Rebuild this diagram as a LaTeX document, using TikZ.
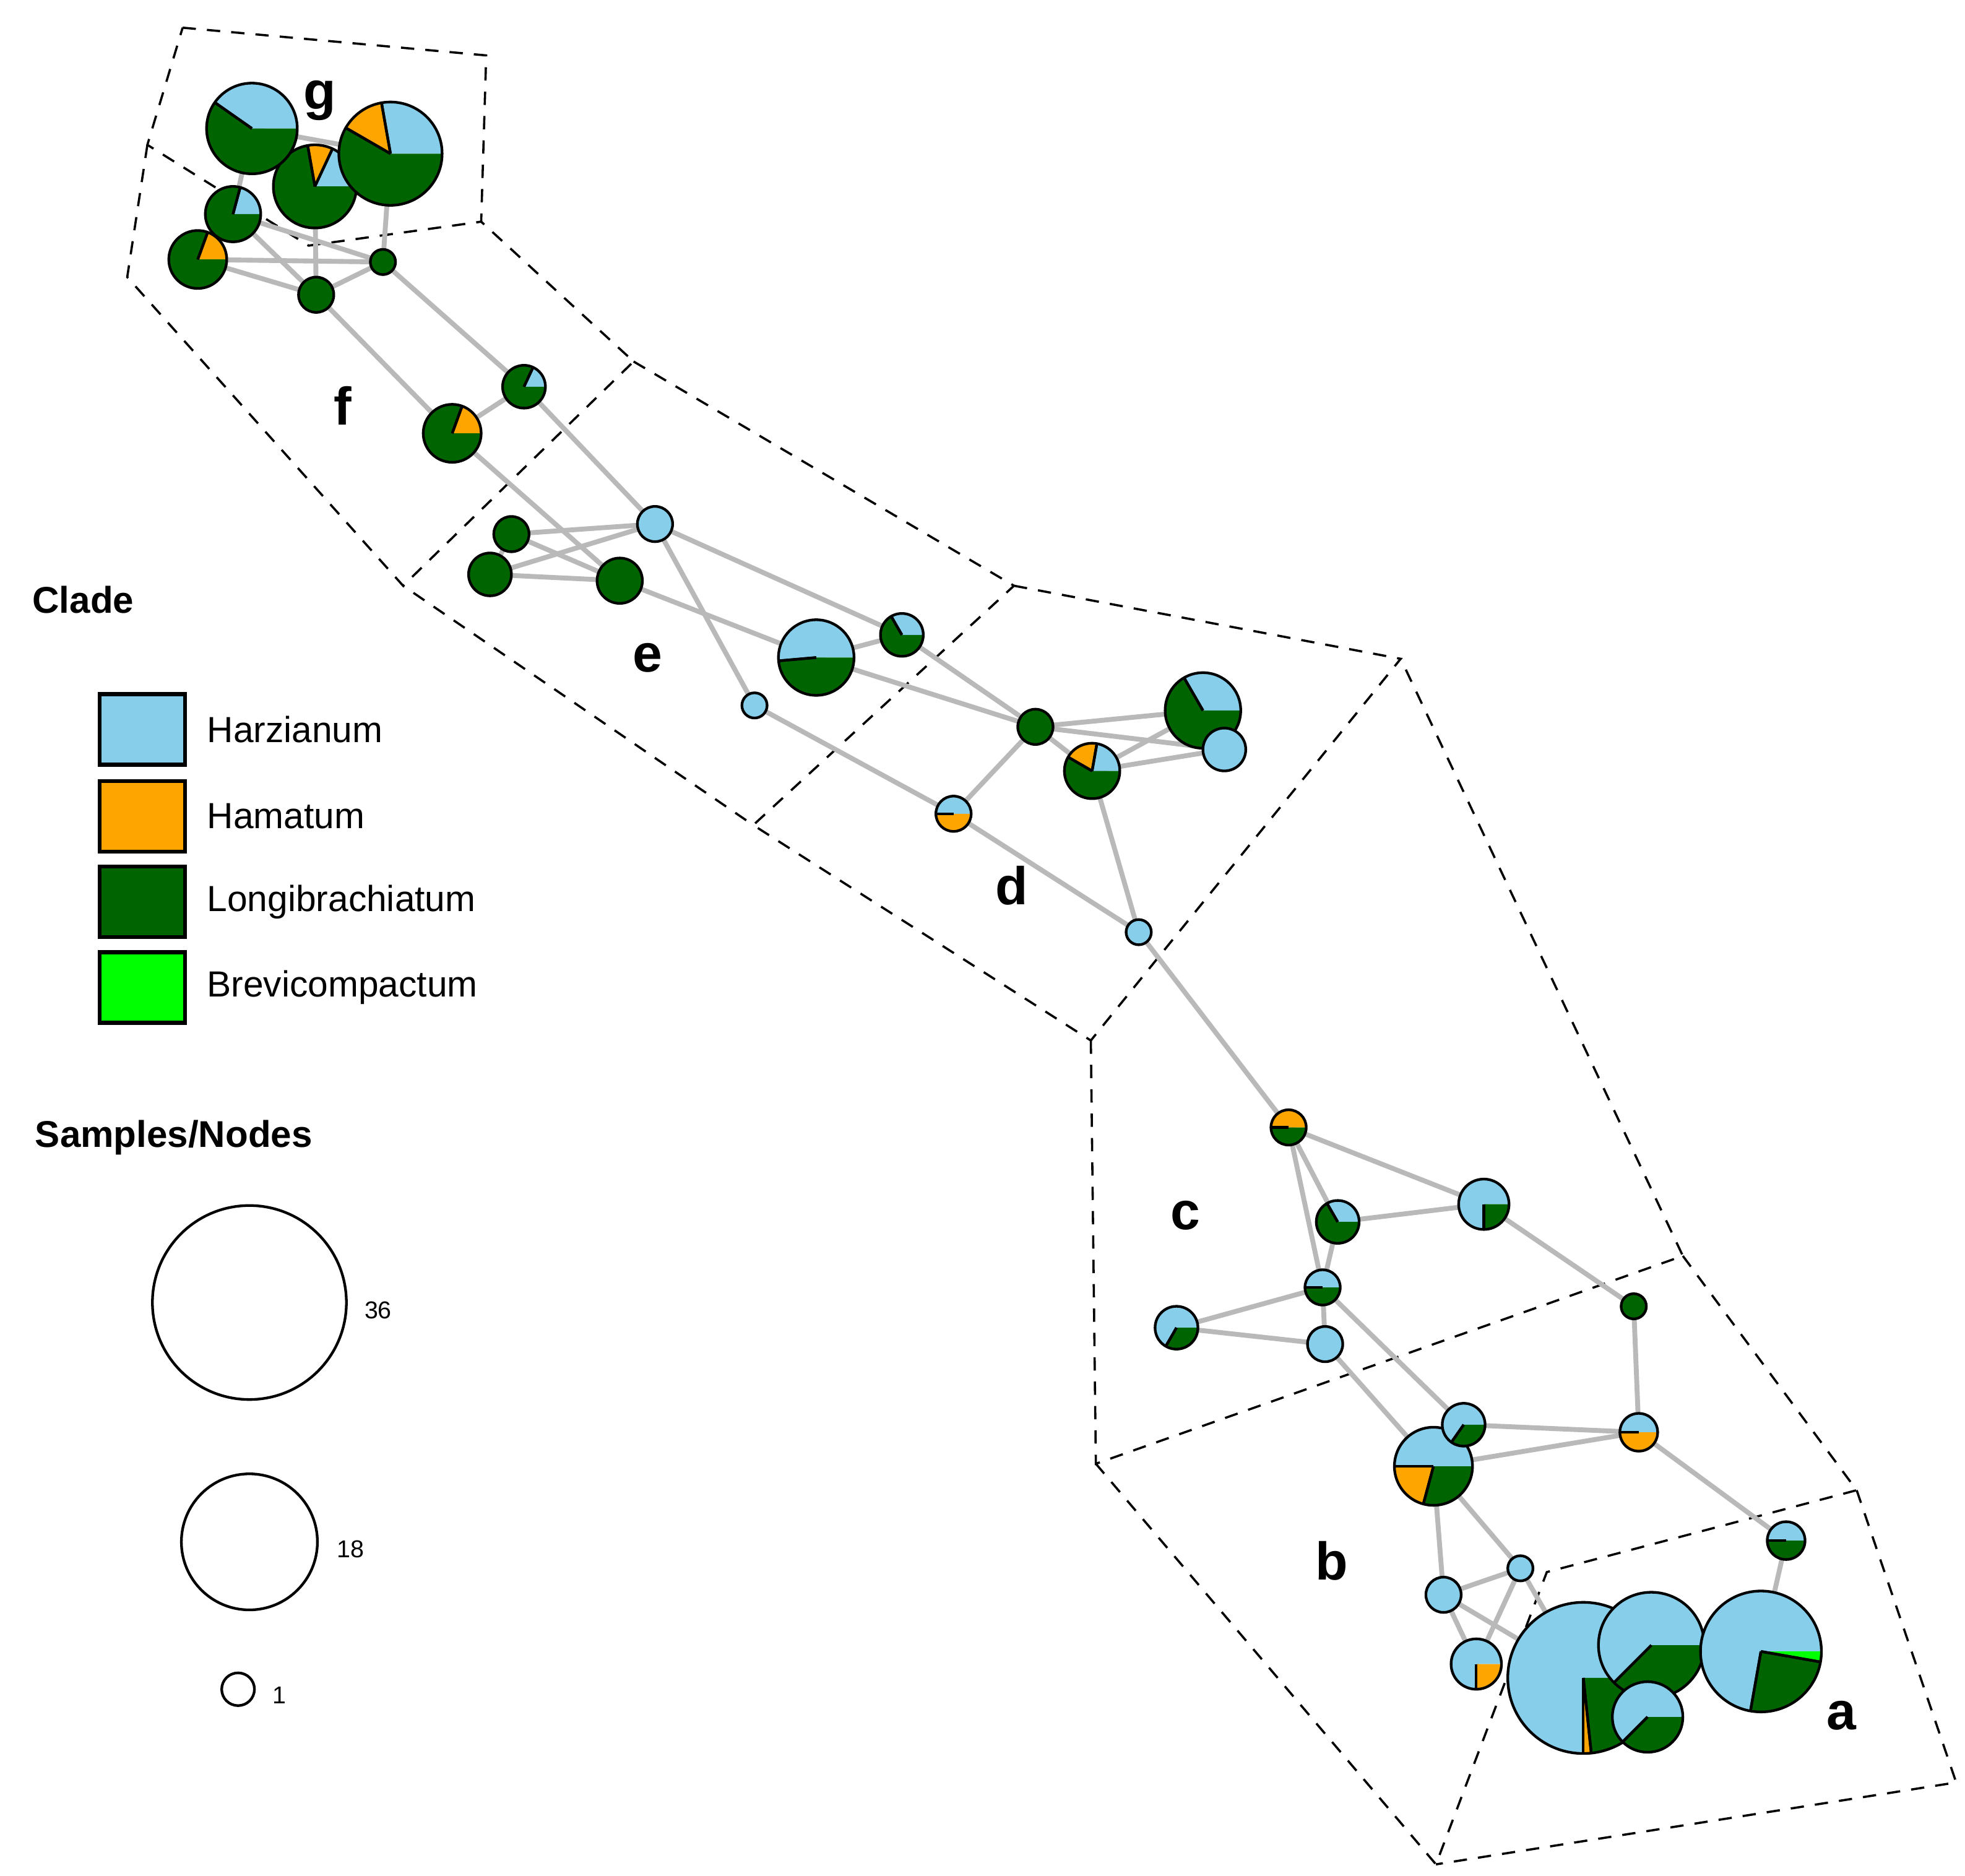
\documentclass[tikz,border=0pt]{standalone}
\usepackage{fontspec}
\setmainfont{Liberation Sans}
\begin{document}
\definecolor{hz}{HTML}{87CEEB}
\definecolor{hm}{HTML}{FFA500}
\definecolor{lg}{HTML}{006400}
\definecolor{bv}{HTML}{00FF00}
\newcommand\mypie[4]{%
  \coordinate (#1) at (#2);
  \foreach \a/\b/\c in {#4}{%
    \fill[\c] (#1) -- ++(-\a:#3) arc[start angle=-\a, end angle=-\b, radius=#3] -- cycle;}
  \foreach \a/\b/\c in {#4}{%
    \ifdim\a pt=0pt\else\draw[pieline] (#1) -- ++(-\a:#3);\fi
    \ifdim\b pt=360pt\else\draw[pieline] (#1) -- ++(-\b:#3);\fi}
  \draw[pieline] (#1) circle[radius=#3];}
\begin{tikzpicture}[x=0.01cm,y=-0.01cm,
  pieline/.style={black,line width=0.6pt},
  edge/.style={gray!55,line width=1.1pt},
  region/.style={black,line width=0.5pt,dash pattern=on 3pt off 2.5pt},
  clab/.style={font=\fontsize{12}{14}\selectfont\bfseries},
  leg/.style={font=\fontsize{8.2}{10}\selectfont,anchor=west},
  legbox/.style={draw=black,line width=0.9pt}]
\useasboundingbox (0,0) rectangle (1560,1489);
% region polygons
\coordinate (p1) at (145,22); \coordinate (p2) at (386,44); \coordinate (p3) at (382,176);
\coordinate (p4) at (117,115); \coordinate (p5) at (101,220); \coordinate (p6) at (245,195);
\coordinate (p7) at (503,287); \coordinate (p8) at (320,465); \coordinate (p9) at (805,465);
\coordinate (p10) at (598,655); \coordinate (p11) at (1112,523); \coordinate (p12) at (866,826);
\coordinate (p13) at (870,1162); \coordinate (p14) at (1336,997); \coordinate (p15) at (1474,1183);
\coordinate (p16) at (1140,1480); \coordinate (p17) at (1228,1248); \coordinate (p18) at (1553,1415);
\draw[region] (p1)--(p2)--(p3)--(p6)--(p4)--(p1);
\draw[region] (p4)--(p5)--(p8)--(p7)--(p3);
\draw[region] (p7)--(p9)--(p10)--(p8);
\draw[region] (p9)--(p11)--(p12)--(p10);
\draw[region] (p12)--(p13)--(p14)--(p11);
\draw[region] (p14)--(p15)--(p17)--(p16)--(p13);
\draw[region] (p15)--(p18)--(p16);
% coordinates of nodes
\foreach \n/\p in {G1/{200,102},G2/{310,122},G3/{250,148},G4/{185,170},G5/{157,206},G6/{304,208},G7/{251,234},
 F1/{416,307},F2/{359,344},E1/{520,416},E2/{406,424},E3/{389,456},E4/{492,461},E5/{648,522},E6/{599,560},E7/{716,504},
 D1/{822,577},D2/{955,564},D3/{972,595},D4/{867,612},D5/{757,646},D6/{904,740},
 C1/{1023,895},C2/{1178,956},C3/{1062,970},C4/{1050,1022},C5/{934,1054},C6/{1052,1067},C7/{1297,1037},
 B1/{1162,1131},B2/{1138,1164},B3/{1301,1137},B4/{1207,1245},B5/{1146,1266},B6/{1172,1321},
 A0/{1418,1223},A1/{1257,1332},A2/{1311,1306},A3/{1308,1363},A4/{1398,1311}}
 {\coordinate (\n) at (\p);}
% edges
\foreach \u/\v in {G1/G2,G1/G4,G2/G6,G3/G7,G5/G6,G5/G7,G4/G6,G4/G7,G7/G6,G6/F1,F1/E1,G7/F2,F2/F1,F2/E4,
 E1/E2,E1/E3,E2/E4,E3/E4,E2/E3,E1/E7,E4/E5,E1/E6,E5/E7,E5/D1,E7/D1,E6/D5,D5/D1,D5/D6,
 D1/D2,D1/D3,D1/D4,D4/D2,D4/D3,D4/D6,D6/C1,C1/C2,C1/C3,C1/C4,C3/C2,C3/C4,C4/C5,C5/C6,C4/C6,
 C4/B1,C6/B2,C2/C7,C7/B3,B1/B3,B2/B3,B2/B5,B2/B4,B3/A0,A0/A4,B5/B4,B5/B6,B4/B6,B4/A1,B5/A1,A2/A4}
 {\draw[edge] (\u) -- (\v);}
% pies
\mypie{G3}{250,148}{33}{0/65/hz,65/100/hm,100/360/lg}
\mypie{G1}{200,102}{36}{0/145/hz,145/360/lg}
\mypie{G2}{310,122}{41}{0/100/hz,100/150/hm,150/360/lg}
\mypie{G4}{185,170}{22}{0/75/hz,75/360/lg}
\mypie{G5}{157,206}{23}{0/70/hm,70/360/lg}
\mypie{G6}{304,208}{10}{0/360/lg}
\mypie{G7}{251,234}{14}{0/360/lg}
\mypie{F1}{416,307}{17}{0/65/hz,65/360/lg}
\mypie{F2}{359,344}{23}{0/70/hm,70/360/lg}
\mypie{E1}{520,416}{14}{0/360/hz}
\mypie{E2}{406,424}{14}{0/360/lg}
\mypie{E3}{389,456}{17}{0/360/lg}
\mypie{E4}{492,461}{18}{0/360/lg}
\mypie{E5}{648,522}{30}{0/185/hz,185/360/lg}
\mypie{E6}{599,560}{10}{0/360/hz}
\mypie{E7}{716,504}{17}{0/120/hz,120/360/lg}
\mypie{D1}{822,577}{14}{0/360/lg}
\mypie{D2}{955,564}{30}{0/120/hz,120/360/lg}
\mypie{D3}{972,595}{17}{0/360/hz}
\mypie{D4}{867,612}{22}{0/80/hz,80/150/hm,150/360/lg}
\mypie{D5}{757,646}{14}{0/180/hz,180/360/hm}
\mypie{D6}{904,740}{10}{0/360/hz}
\mypie{C1}{1023,895}{14}{0/180/hm,180/360/lg}
\mypie{C2}{1178,956}{20}{0/270/hz,270/360/lg}
\mypie{C3}{1062,970}{17}{0/120/hz,120/360/lg}
\mypie{C4}{1050,1022}{14}{0/180/hz,180/360/lg}
\mypie{C5}{934,1054}{17}{0/240/hz,240/360/lg}
\mypie{C6}{1052,1067}{14}{0/360/hz}
\mypie{C7}{1297,1037}{10}{0/360/lg}
\mypie{B2}{1138,1164}{31}{0/180/hz,180/255/hm,255/360/lg}
\mypie{B1}{1162,1131}{17}{0/235/hz,235/360/lg}
\mypie{B3}{1301,1137}{15}{0/180/hz,180/360/hm}
\mypie{B4}{1207,1245}{10}{0/360/hz}
\mypie{B5}{1146,1266}{14}{0/360/hz}
\mypie{B6}{1172,1321}{20}{0/270/hz,270/360/hm}
\mypie{A0}{1418,1223}{15}{0/180/hz,180/360/lg}
\mypie{A1}{1257,1332}{60}{0/270/hz,270/276/hm,276/360/lg}
\mypie{A2}{1311,1306}{42}{0/225/hz,225/360/lg}
\mypie{A3}{1308,1363}{28}{0/225/hz,225/360/lg}
\mypie{A4}{1398,1311}{48}{0/260/hz,260/350/lg,350/360/bv}
% region labels
\node[clab] (lg) at (254,80) {g};
\node[clab] (lf) at (272,322) {f};
\node[clab] (le) at (514,522) {e};
\node[clab] (ld) at (803,703) {d};
\node[clab] (lc) at (941,965) {c};
\node[clab] (lb) at (1057,1239) {b};
\node[clab] (la) at (1462,1362) {a};
% legend
\node[font=\fontsize{8.4}{10}\selectfont\bfseries] (clade) at (66,476) {Clade};
\foreach \y/\c/\t/\n in {579/hz/Harzianum/k1,648/hm/Hamatum/k2,716/lg/Longibrachiatum/k3,784/bv/Brevicompactum/k4}{
  \filldraw[legbox,fill=\c] (79,\y-28) rectangle (147,\y+28);
  \node[leg] (\n) at (152,\y) {\t};}
\node[font=\fontsize{8.4}{10}\selectfont\bfseries] (sn) at (138,903) {Samples/Nodes};
\draw[line width=0.6pt] (198,1034) circle[radius=77];
\node[font=\fontsize{5.5}{7}\selectfont,anchor=west] (s36) at (277,1040) {36};
\draw[line width=0.6pt] (198,1224) circle[radius=54];
\node[font=\fontsize{5.5}{7}\selectfont,anchor=west] (s18) at (255,1230) {18};
\draw[line width=0.6pt] (189,1341) circle[radius=13];
\node[font=\fontsize{5.5}{7}\selectfont,anchor=west] (s1) at (204,1346) {1};
\end{tikzpicture}
\end{document}
